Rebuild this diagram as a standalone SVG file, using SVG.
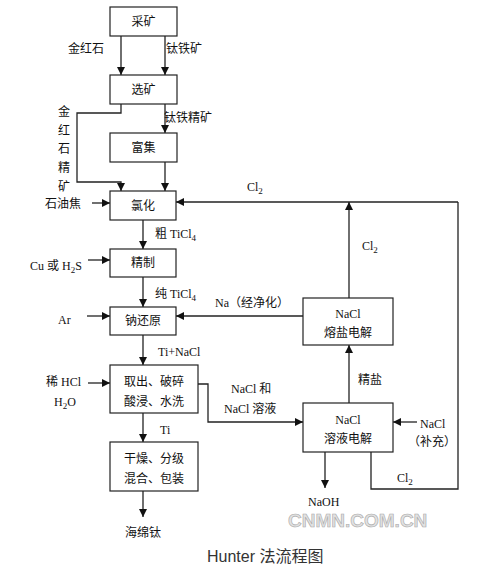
<svg xmlns="http://www.w3.org/2000/svg" width="484" height="574" viewBox="0 0 484 574">
<style>
.box{fill:#fff;stroke:#222;stroke-width:1.2}
.ln{fill:none;stroke:#222;stroke-width:1.3}
.t{font-family:"Liberation Serif","Noto Sans CJK SC",serif;font-size:12px;fill:#111}
.c{text-anchor:middle}
</style>
<defs>
<marker id="ah" viewBox="0 0 10 10" refX="10" refY="5" markerWidth="8" markerHeight="8" markerUnits="userSpaceOnUse" orient="auto">
<path d="M0,0 L10,5 L0,10 z" fill="#111"/>
</marker>
</defs>
<rect width="484" height="574" fill="#fff"/>
<g id="connectors">
<path class="ln" d="M121,36 V75" marker-end="url(#ah)"/>
<path class="ln" d="M165,36 V75" marker-end="url(#ah)"/>
<path class="ln" d="M165,104 V133" marker-end="url(#ah)"/>
<path class="ln" d="M121,104 V113 H77 V182 H121 V191" marker-end="url(#ah)"/>
<path class="ln" d="M165,162 V191" marker-end="url(#ah)"/>
<path class="ln" d="M92,203 H110" marker-end="url(#ah)"/>
<path class="ln" d="M143,220 V249" marker-end="url(#ah)"/>
<path class="ln" d="M88,260 H110" marker-end="url(#ah)"/>
<path class="ln" d="M143,277 V307" marker-end="url(#ah)"/>
<path class="ln" d="M87,316 H110" marker-end="url(#ah)"/>
<path class="ln" d="M143,335 V365" marker-end="url(#ah)"/>
<path class="ln" d="M88,383 H110" marker-end="url(#ah)"/>
<path class="ln" d="M143,413 V442" marker-end="url(#ah)"/>
<path class="ln" d="M143,491 V517" marker-end="url(#ah)"/>
<path class="ln" d="M458,202 H176" marker-end="url(#ah)"/>
<path class="ln" d="M349,298 V202" marker-end="url(#ah)"/>
<path class="ln" d="M303,316 H176" marker-end="url(#ah)"/>
<path class="ln" d="M349,403 V345" marker-end="url(#ah)"/>
<path class="ln" d="M198,384 H208 V422 H303" marker-end="url(#ah)"/>
<path class="ln" d="M417,422 H393" marker-end="url(#ah)"/>
<path class="ln" d="M325,452 V488" marker-end="url(#ah)"/>
<path class="ln" d="M371,452 V489 H458 V202"/>
</g>
<g id="n-caikuang"><rect class="box" x="110" y="7" width="67" height="29"/><text class="t c" x="143.5" y="26">采矿</text></g>
<g id="n-xuankuang"><rect class="box" x="110" y="75" width="67" height="29"/><text class="t c" x="143.5" y="94">选矿</text></g>
<g id="n-fuji"><rect class="box" x="110" y="133" width="67" height="29"/><text class="t c" x="143.5" y="152">富集</text></g>
<g id="n-lvhua"><rect class="box" x="110" y="191" width="66" height="29"/><text class="t c" x="143" y="210">氯化</text></g>
<g id="n-jingzhi"><rect class="box" x="110" y="249" width="66" height="28"/><text class="t c" x="143" y="267">精制</text></g>
<g id="n-nahuanyuan"><rect class="box" x="110" y="307" width="66" height="28"/><text class="t c" x="143" y="325">钠还原</text></g>
<g id="n-quchu"><rect class="box" x="110" y="365" width="88" height="48"/><text class="t c" x="154" y="386">取出、破碎</text><text class="t c" x="154" y="406">酸浸、水洗</text></g>
<g id="n-ganzao"><rect class="box" x="110" y="442" width="88" height="49"/><text class="t c" x="154" y="463">干燥、分级</text><text class="t c" x="154" y="483">混合、包装</text></g>
<g id="n-rongyan"><rect class="box" x="303" y="298" width="90" height="47"/><text class="t c" x="348" y="318">NaCl</text><text class="t c" x="348" y="337">熔盐电解</text></g>
<g id="n-rongye"><rect class="box" x="303" y="403" width="90" height="49"/><text class="t c" x="348" y="424">NaCl</text><text class="t c" x="348" y="443">溶液电解</text></g>
<g id="labels">
<text class="t" x="68" y="53">金红石</text>
<text class="t" x="166" y="53">钛铁矿</text>
<text class="t" x="164" y="122">钛铁精矿</text>
<text class="t c" x="64" y="116">金</text>
<text class="t c" x="64" y="135">红</text>
<text class="t c" x="64" y="153">石</text>
<text class="t c" x="64" y="172">精</text>
<text class="t c" x="64" y="191">矿</text>
<text class="t" x="45" y="208">石油焦</text>
<text class="t" x="155" y="238">粗 TiCl<tspan font-size="9" dy="3">4</tspan></text>
<text class="t" x="30" y="270">Cu 或 H<tspan font-size="9" dy="3">2</tspan><tspan dy="-3">S</tspan></text>
<text class="t" x="155" y="298">纯 TiCl<tspan font-size="9" dy="3">4</tspan></text>
<text class="t" x="58" y="324">Ar</text>
<text class="t" x="215" y="307">Na（经净化）</text>
<text class="t" x="158" y="356">Ti+NaCl</text>
<text class="t" x="46" y="386">稀 HCl</text>
<text class="t" x="54" y="406">H<tspan font-size="9" dy="3">2</tspan><tspan dy="-3">O</tspan></text>
<text class="t" x="160" y="434">Ti</text>
<text class="t" x="125" y="537">海绵钛</text>
<text class="t" x="247" y="191">Cl<tspan font-size="9" dy="3">2</tspan></text>
<text class="t" x="362" y="250">Cl<tspan font-size="9" dy="3">2</tspan></text>
<text class="t" x="358" y="384">精盐</text>
<text class="t" x="231" y="393">NaCl 和</text>
<text class="t" x="224" y="413">NaCl 溶液</text>
<text class="t" x="420" y="428">NaCl</text>
<text class="t" x="408" y="446">（补充）</text>
<text class="t" x="397" y="482">Cl<tspan font-size="9" dy="3">2</tspan></text>
<text class="t" x="308" y="506">NaOH</text>
<text x="288" y="527" font-family="Liberation Sans,Arial,sans-serif" font-size="19" font-weight="bold" fill="#e2e2e2" stroke="#aaa" stroke-width="0.6">CNMN.COM.CN</text>
<text x="207" y="562" font-family="Liberation Sans,Noto Sans CJK SC,sans-serif" font-size="16" fill="#333">Hunter 法流程图</text>
</g>
</svg>
